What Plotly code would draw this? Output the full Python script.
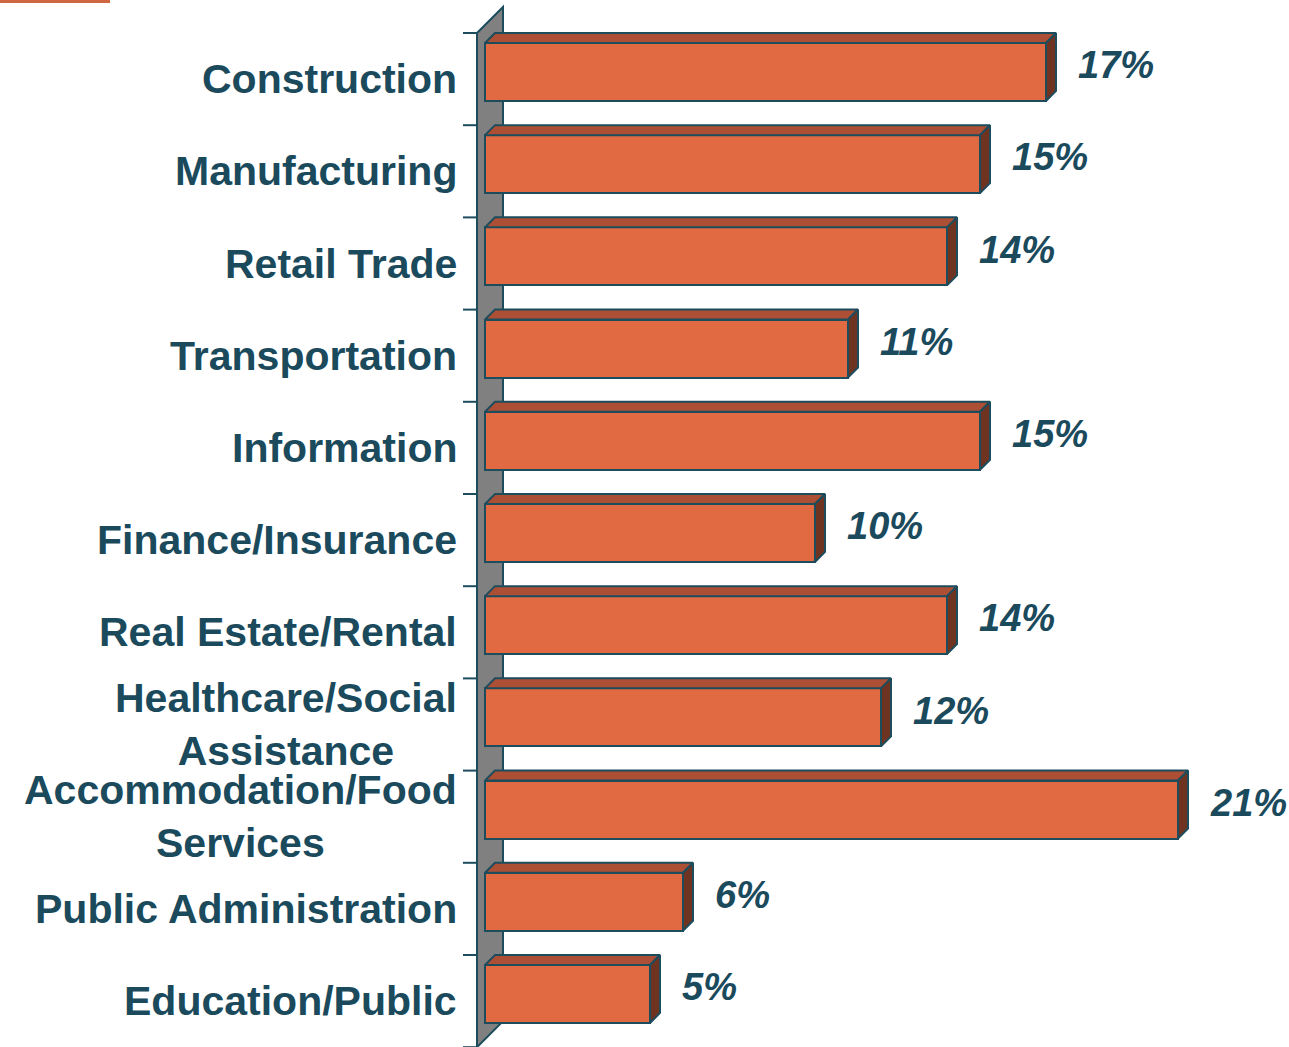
import plotly.graph_objects as go

# Share of firms by industry
categories = [
    "Construction",
    "Manufacturing",
    "Retail Trade",
    "Transportation",
    "Information",
    "Finance/Insurance",
    "Real Estate/Rental",
    "Healthcare/Social<br>Assistance",
    "Accommodation/Food<br>Services",
    "Public Administration",
    "Education/Public",
]
values = [17, 15, 14, 11, 15, 10, 14, 12, 21, 6, 5]
value_labels = ["17%", "15%", "14%", "11%", "15%", "10%", "14%", "12%", "21%", "6%", "5%"]

W, H = 1289, 1047
TEXT = "#1A4A5C"
EDGE = "#1D4C5D"
FRONT = "#E26A42"
TOP = "#AD4F35"
SIDE = "#6E3321"
WALL = "#808080"

# axis geometry (data units)
px_per_unit_x = 33.0
px_per_band = 92.2
plot_left_px = 460
zero_px = 485
x_min = (plot_left_px - zero_px) / px_per_unit_x
x_max = x_min + (W - plot_left_px) / px_per_unit_x
y_top = -79.1 / px_per_band
y_bot = y_top + H / px_per_band

dx = 10 / px_per_unit_x   # depth offset of the 3D bars
dy = 10 / px_per_band
bar_off = -0.392
bar_w = 0.629

n = len(categories)
pos = list(range(n))

fig = go.Figure()

# front faces
fig.add_trace(go.Bar(
    x=values, y=pos, orientation="h", base=0,
    width=bar_w, offset=bar_off,
    marker=dict(color=FRONT, line=dict(color=EDGE, width=2)),
    hoverinfo="skip", showlegend=False,
))

# top and side faces, built from the same values
top_x, top_y, side_x, side_y = [], [], [], []
for i, v in zip(pos, values):
    y0 = i + bar_off
    y1 = y0 + bar_w
    top_x += [0, v, v + dx, dx, 0, None]
    top_y += [y0, y0, y0 - dy, y0 - dy, y0, None]
    side_x += [v, v + dx, v + dx, v, v, None]
    side_y += [y0, y0 - dy, y1 - dy, y1, y0, None]

fig.add_trace(go.Scatter(
    x=top_x, y=top_y, mode="lines", fill="toself", fillcolor=TOP,
    line=dict(color=EDGE, width=2), hoverinfo="skip", showlegend=False,
))
fig.add_trace(go.Scatter(
    x=side_x, y=side_y, mode="lines", fill="toself", fillcolor=SIDE,
    line=dict(color=EDGE, width=2), hoverinfo="skip", showlegend=False,
))

shapes = []
# grey back wall
wl = (477 - zero_px) / px_per_unit_x
wr = (503 - zero_px) / px_per_unit_x
wd = 26 / px_per_band
shapes.append(dict(
    type="path", xref="x", yref="y", layer="below",
    path=f"M {wl},{-0.5} L {wr},{-0.5 - wd} L {wr},{n - 0.5 - wd} L {wl},{n - 0.5} Z",
    fillcolor=WALL, line=dict(color=EDGE, width=2),
))
# category tick marks
tx0 = (463 - zero_px) / px_per_unit_x
for k in range(n + 1):
    shapes.append(dict(
        type="line", xref="x", yref="y", layer="below",
        x0=tx0, x1=wl, y0=k - 0.5, y1=k - 0.5,
        line=dict(color=EDGE, width=2),
    ))
# accent line in the top-left corner
shapes.append(dict(
    type="rect", xref="paper", yref="paper",
    x0=0, x1=110 / W, y0=1 - 3 / H, y1=1,
    fillcolor="#D0663F", line=dict(width=0),
))

annotations = []
for i, c in zip(pos, categories):
    annotations.append(dict(
        x=459 / W, xref="paper", y=i, yref="y",
        xanchor="right", yanchor="middle", align="center",
        text=c, showarrow=False,
        font=dict(family="Liberation Sans, Arial, sans-serif", size=41, color=TEXT, weight="bold"),
    ))
for i, v, t in zip(pos, values, value_labels):
    annotations.append(dict(
        x=v, xref="x", y=i, yref="y",
        xanchor="left", yanchor="middle",
        xshift=30, yshift=14,
        text=f"<b><i>{t}</i></b>", showarrow=False,
        font=dict(family="Liberation Sans, Arial, sans-serif", size=38, color=TEXT),
    ))

fig.update_layout(
    width=W, height=H,
    margin=dict(l=0, r=0, t=0, b=0),
    paper_bgcolor="white", plot_bgcolor="white",
    xaxis=dict(domain=[plot_left_px / W, 1], range=[x_min, x_max], visible=False, fixedrange=True),
    yaxis=dict(domain=[0, 1], range=[y_bot, y_top], visible=False, fixedrange=True),
    shapes=shapes, annotations=annotations,
    bargap=0,
)

fig.write_html("out.html")
